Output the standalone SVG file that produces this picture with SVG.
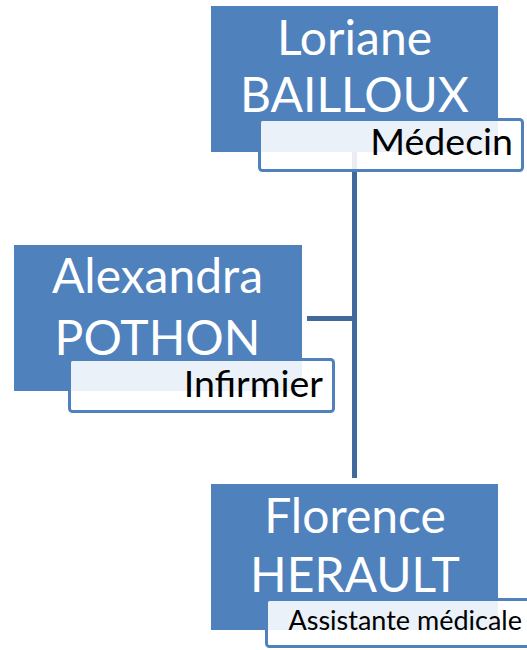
<svg xmlns="http://www.w3.org/2000/svg" width="527" height="650" viewBox="0 0 527 650">
  <style>
    .box { fill: #4F81BD; }
    .role { fill: #FFFFFF; fill-opacity: 0.89; stroke: #4F81BD; stroke-width: 3; }
    .name { font-family: Lato, "Open Sans", sans-serif; font-size: 48px; fill: #FFFFFF; text-anchor: middle; }
    .title { font-family: Lato, "Open Sans", sans-serif; font-size: 37.5px; fill: #000000; text-anchor: end; }
    .small { font-size: 27px; }
    .link { stroke: #41699B; stroke-width: 5; fill: none; }
  </style>

  <!-- connectors -->
  <g id="connectors">
    <line class="link" x1="354.5" y1="150" x2="354.5" y2="478"/>
    <line class="link" x1="307" y1="318.5" x2="357" y2="318.5"/>
  </g>

  <!-- Loriane BAILLOUX -->
  <g id="node-bailloux">
    <rect class="box" x="211" y="6" width="287" height="146"/>
    <text class="name" x="354.5" y="55">Loriane</text>
    <text class="name" x="354.5" y="112">BAILLOUX</text>
    <rect class="role" x="259.5" y="119.5" width="263" height="51" rx="3"/>
    <text class="title" x="513" y="155">Médecin</text>
  </g>

  <!-- Alexandra POTHON -->
  <g id="node-pothon">
    <rect class="box" x="14" y="245" width="288" height="146"/>
    <text class="name" x="157.5" y="293">Alexandra</text>
    <text class="name" x="157.5" y="355">POTHON</text>
    <rect class="role" x="69.5" y="359.5" width="264" height="52" rx="3"/>
    <text class="title" x="323" y="397">Infirmier</text>
  </g>

  <!-- Florence HERAULT -->
  <g id="node-herault">
    <rect class="box" x="211" y="484" width="287" height="146"/>
    <text class="name" x="355" y="533">Florence</text>
    <text class="name" x="355" y="592">HERAULT</text>
    <rect class="role" x="266.5" y="599.5" width="270" height="47" rx="3"/>
    <text class="title small" x="522" y="630">Assistante médicale</text>
  </g>
</svg>
